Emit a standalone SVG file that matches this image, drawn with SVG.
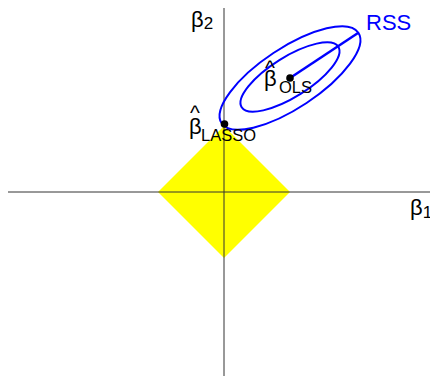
<svg xmlns="http://www.w3.org/2000/svg" width="430" height="376" viewBox="0 0 430 376">
<style>
.ax{stroke:#333;stroke-width:1;fill:none}
.ell{stroke:#0000ff;stroke-width:2;fill:none}
.t{font-family:"Liberation Sans",Arial,sans-serif;fill:#000}
.b{font-size:22px}
.s{font-size:16.5px}
.hat{font-size:21px}
</style>
<rect width="430" height="376" fill="#fff"/>
<g id="constraint">
<polygon points="158,192 224,126 290,192 224,258" fill="#ffff00"/>
</g>
<g id="axes">
<line class="ax" x1="8" y1="192" x2="430" y2="192"/>
<line class="ax" x1="224" y1="8" x2="224" y2="376"/>
</g>
<g id="rss">
<ellipse class="ell" cx="290" cy="78" rx="82" ry="30" transform="rotate(-33.5 290 78)"/>
<ellipse class="ell" cx="290" cy="77" rx="57" ry="20" transform="rotate(-32 290 77)"/>
<line x1="290" y1="78" x2="358" y2="33" stroke="#0000ff" stroke-width="2.5"/>
<text class="t" x="366" y="30" font-size="22" style="fill:#0000ff">RSS</text>
</g>
<g id="ols">
<circle cx="290" cy="78" r="3.8" fill="#000"/>
<text class="t b" x="264" y="86">β<tspan class="hat" x="265" y="75">^</tspan><tspan class="s" x="279" y="93">OLS</tspan></text>
</g>
<g id="lasso">
<circle cx="224.5" cy="124" r="3.8" fill="#000"/>
<text class="t b" x="189" y="134">β<tspan class="hat" x="190" y="120">^</tspan><tspan class="s" x="201" y="141">LASSO</tspan></text>
</g>
<g id="labels">
<text class="t b" x="191" y="27">β<tspan font-size="17" dy="2">2</tspan></text>
<text class="t b" x="410" y="215">β<tspan font-size="17" dy="3">1</tspan></text>
</g>
</svg>
